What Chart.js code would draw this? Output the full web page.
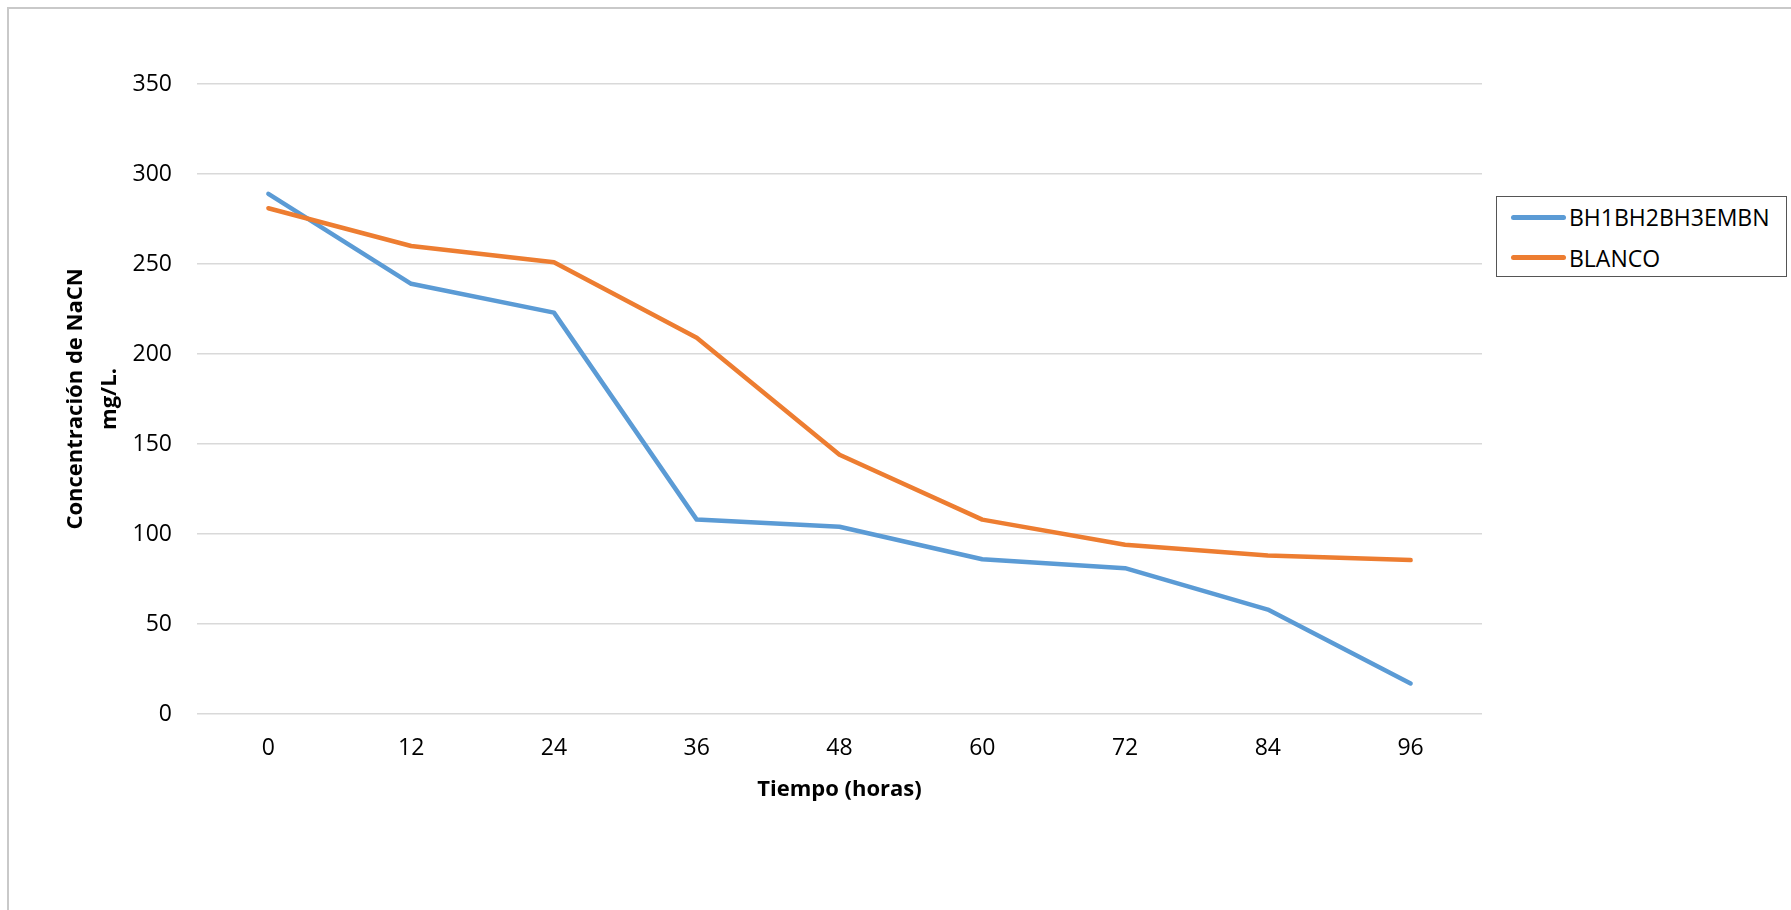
<!DOCTYPE html>
<html>
<head>
<meta charset="utf-8">
<script src="https://cdn.jsdelivr.net/npm/chart.js@4.4.1/dist/chart.umd.min.js"></script>
<style>
  html, body { margin: 0; padding: 0; background: #fff; overflow: hidden; }
  #wrap { position: relative; width: 1791px; height: 910px; }
  #frame { position: absolute; left: 7px; top: 7px; width: 2000px; height: 2000px;
           border: 2px solid #c9c9c9; box-sizing: border-box; }
  #c { position: absolute; left: 0; top: 0; }
  #legend { position: absolute; left: 1496px; top: 196px; width: 291px; height: 81px;
            border: 1.5px solid #555; box-sizing: border-box; background: #fff;
            font-family: "Open Sans", sans-serif; font-size: 23px; color: #000; }
  .item { position: absolute; left: 0; height: 30px; display: flex; align-items: center; }
  .swatch { width: 55px; height: 5px; border-radius: 3px; margin-left: 14px; margin-right: 3px; }
</style>
</head>
<body>
<div id="wrap">
  <div id="frame"></div>
  <canvas id="c" width="1791" height="910"></canvas>
  <div id="legend"></div>
</div>
<script>
const categories = ["0", "12", "24", "36", "48", "60", "72", "84", "96"];
const seriesBH = [289, 239, 223, 108, 104, 86, 81, 58, 17];
const seriesBlanco = [281, 260, 251, 209, 144, 108, 94, 88, 85.5];
const seriesNames = ["BH1BH2BH3EMBN", "BLANCO"];
const seriesColors = ["#5B9BD5", "#ED7D31"];
const yTitle = ["Concentración de NaCN", "mg/L."];
const xTitle = "Tiempo (horas)";

const chart = new Chart(document.getElementById('c'), {
  type: 'line',
  data: {
    labels: categories,
    datasets: [
      { label: seriesNames[0], data: seriesBH, borderColor: seriesColors[0], backgroundColor: seriesColors[0],
        borderWidth: 4.5, pointRadius: 0, tension: 0, borderCapStyle: 'round', borderJoinStyle: 'round', order: 1 },
      { label: seriesNames[1], data: seriesBlanco, borderColor: seriesColors[1], backgroundColor: seriesColors[1],
        borderWidth: 4.5, pointRadius: 0, tension: 0, borderCapStyle: 'round', borderJoinStyle: 'round', order: 0 }
    ]
  },
  options: {
    responsive: false,
    animation: false,
    layout: { padding: { top: 84, left: 0, right: 309, bottom: 0 } },
    plugins: { legend: { display: false }, tooltip: { enabled: false } },
    scales: {
      x: {
        offset: true,
        grid: { display: false, drawTicks: false },
        border: { display: false },
        ticks: { color: '#000', padding: 21, font: { family: 'Open Sans', size: 23 }, maxRotation: 0 },
        title: { display: true, text: xTitle, color: '#000',
                 font: { family: 'Open Sans', size: 22, weight: 'bold', lineHeight: 1.2 },
                 padding: { top: 0, bottom: 107 } },
        afterFit: s => { s.height = 196; }
      },
      y: {
        min: 0, max: 350,
        ticks: { stepSize: 50, color: '#000', padding: 25, font: { family: 'Open Sans', size: 23 } },
        grid: { color: '#D9D9D9', lineWidth: 1.5, drawTicks: false },
        border: { display: false },
        title: { display: true, text: yTitle, color: '#000',
                 font: { family: 'Open Sans', size: 22, weight: 'bold', lineHeight: 1.545 },
                 padding: { top: 59, bottom: 0 } },
        afterFit: s => { s.width = 197; }
      }
    }
  }
});

// HTML legend built from the chart's datasets
const legendEl = document.getElementById('legend');
chart.data.datasets.forEach((ds, i) => {
  const item = document.createElement('div');
  item.className = 'item';
  item.style.top = (5 + i * 40.5) + 'px';
  const sw = document.createElement('span');
  sw.className = 'swatch';
  sw.style.background = ds.borderColor;
  const tx = document.createElement('span');
  tx.textContent = ds.label;
  item.appendChild(sw);
  item.appendChild(tx);
  legendEl.appendChild(item);
});
</script>
</body>
</html>
